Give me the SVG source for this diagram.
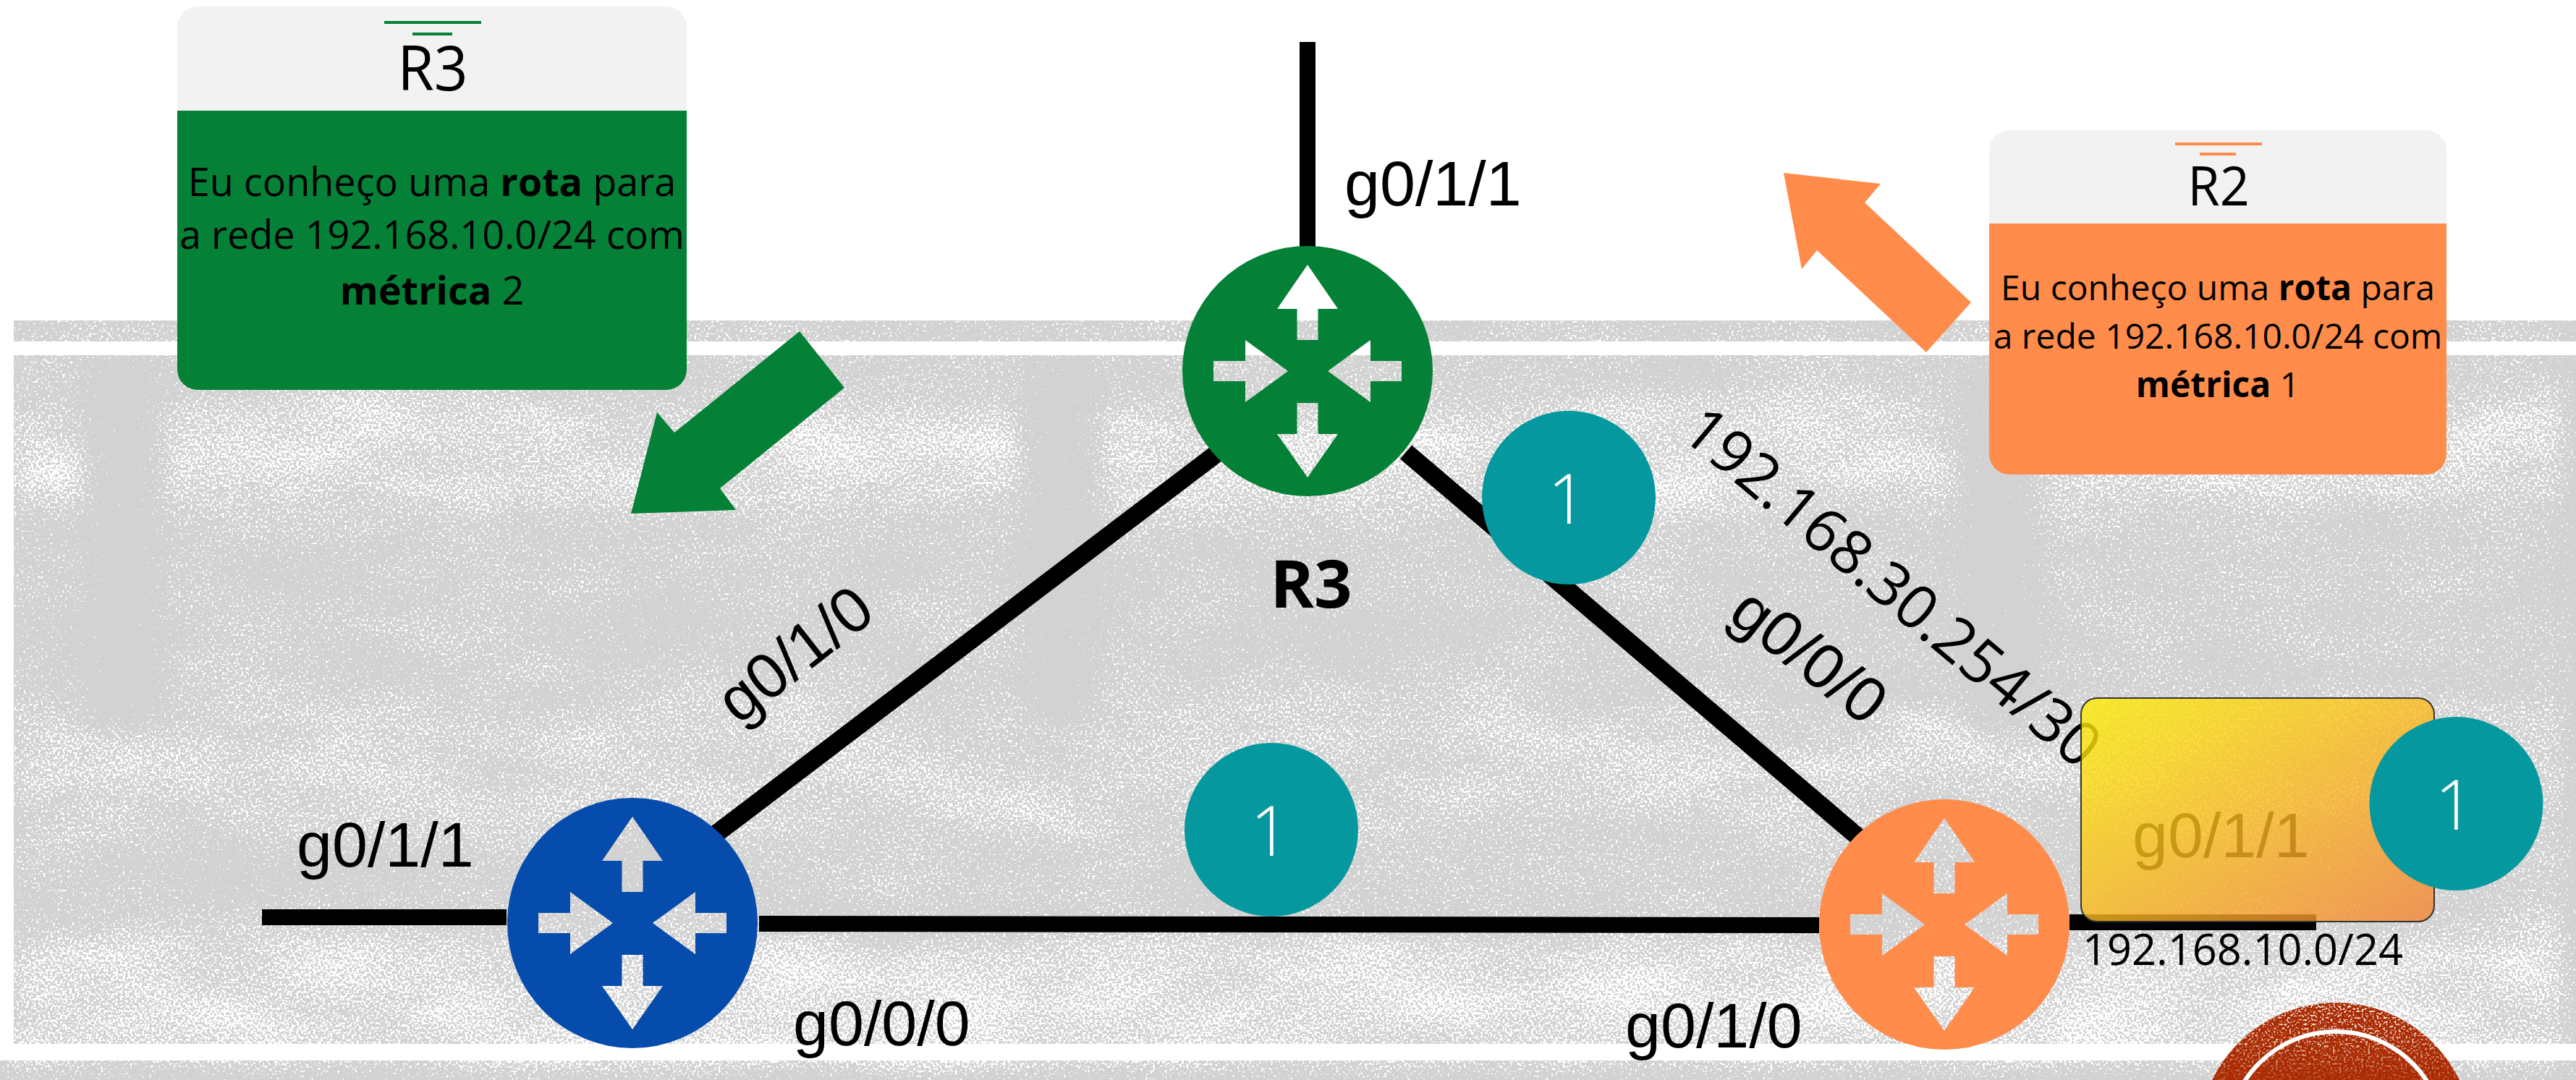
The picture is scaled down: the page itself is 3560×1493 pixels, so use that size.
<svg xmlns="http://www.w3.org/2000/svg" width="3560" height="1493" viewBox="0 0 3560 1493">
<style>
.txt{font-family:"Open Sans","Noto Sans",sans-serif;fill:#000}
.lib{font-family:"Liberation Sans",Arial,sans-serif;font-size:88px;fill:#000}
.card{font-size:54px;text-anchor:middle}
.card2{font-size:48px;text-anchor:middle}
.title{font-weight:400;text-anchor:middle}
.b{font-weight:700}
.link{stroke:#000;stroke-width:22;fill:none}
.diag{stroke-width:25}
.num{font-family:"Open Sans","Noto Sans",sans-serif;font-weight:300;font-size:95px;fill:#fff;text-anchor:middle}
.badge{fill:#05999f}
</style>
<defs>
<path id="router" fill-rule="evenodd" d="M-173 0A173 173 0 1 1 173 0A173 173 0 1 1 -173 0ZM0 -147L-42 -86H-14.500V-43H14.500V-86H42ZM-130 -14V14H-86V43L-27 0L-86 -43V-14ZM130 -14V14H87V43L28 0L87 -43V-14ZM-14.500 44V87H-42L0 147L42 87H14.500V44Z"/>
<linearGradient id="yellowFill" x1="0" y1="0" x2="1" y2="1">
<stop offset="0" stop-color="#ffef03"/><stop offset="1" stop-color="#f58438"/>
</linearGradient>
<filter id="speckle" filterUnits="userSpaceOnUse" x="0" y="0" width="3560" height="1493" color-interpolation-filters="sRGB">
<feTurbulence type="fractalNoise" baseFrequency="0.3" numOctaves="2" seed="7" result="t"/>
<feColorMatrix in="t" type="matrix" values="0 0 0 0 1 0 0 0 0 1 0 0 0 0 1 1 0 0 0 0" result="n"/>
<feTurbulence type="fractalNoise" baseFrequency="0.005 0.012" numOctaves="3" seed="21" result="lt"/>
<feColorMatrix in="lt" type="matrix" values="0 0 0 0 1 0 0 0 0 1 0 0 0 0 1 .25 0 0 0 0" result="L"/>
<feFlood x="0" y="443" width="3560" height="1050" flood-color="#fff" flood-opacity=".03" result="h0"/>
<feFlood x="0" y="443" width="3560" height="30" flood-color="#fff" flood-opacity=".05" result="h1"/>
<feFlood x="0" y="555" width="3560" height="150" flood-color="#fff" flood-opacity=".13" result="h2"/>
<feFlood x="0" y="980" width="3560" height="170" flood-color="#fff" flood-opacity=".09" result="h3"/>
<feFlood x="0" y="1300" width="3560" height="193" flood-color="#fff" flood-opacity=".15" result="h4"/>
<feMerge result="hm"><feMergeNode in="h0"/><feMergeNode in="h1"/><feMergeNode in="h2"/><feMergeNode in="h3"/><feMergeNode in="h4"/></feMerge>
<feGaussianBlur in="hm" stdDeviation="22" result="H"/>
<feFlood x="0" y="0" width="3560" height="500" flood-color="#fff" result="c0"/>
<feFlood x="0" y="1000" width="3560" height="493" flood-color="#fff" result="c1"/>
<feFlood x="0" y="480" width="125" height="540" flood-color="#fff" result="c2"/>
<feFlood x="215" y="480" width="1205" height="540" flood-color="#fff" result="c3"/>
<feFlood x="1510" y="480" width="1205" height="540" flood-color="#fff" result="c4"/>
<feFlood x="2810" y="480" width="750" height="540" flood-color="#fff" result="c5"/>
<feMerge result="cm"><feMergeNode in="c0"/><feMergeNode in="c1"/><feMergeNode in="c2"/><feMergeNode in="c3"/><feMergeNode in="c4"/><feMergeNode in="c5"/></feMerge>
<feGaussianBlur in="cm" stdDeviation="22" result="C"/>
<feComposite in="H" in2="C" operator="arithmetic" k1="1" k2="0" k3="0" k4="0" result="D"/>
<feComposite in="L" in2="C" operator="arithmetic" k1="1" k2="0" k3="0" k4="0" result="LC"/>
<feComposite in="n" in2="D" operator="arithmetic" k1="0" k2="1" k3="1" k4="0" result="s1"/>
<feComposite in="s1" in2="LC" operator="arithmetic" k1="0" k2="1" k3="1" k4="0" result="sum"/>
<feComponentTransfer in="sum" result="th"><feFuncA type="linear" slope="30" intercept="-24"/></feComponentTransfer>
<feFlood flood-color="#fff" result="w"/>
<feComposite in="w" in2="th" operator="in" result="spec"/>
<feComposite in="spec" in2="SourceAlpha" operator="in" result="specIn"/>
<feMerge><feMergeNode in="SourceGraphic"/><feMergeNode in="specIn"/></feMerge>
</filter>
<filter id="speckRed" filterUnits="userSpaceOnUse" x="3000" y="1380" width="460" height="113" color-interpolation-filters="sRGB">
<feTurbulence type="fractalNoise" baseFrequency="0.33" numOctaves="2" seed="11" result="t"/>
<feColorMatrix in="t" type="matrix" values="0 0 0 0 1 0 0 0 0 1 0 0 0 0 1 6 0 0 0 -3.150" result="n"/>
<feComposite in="n" in2="SourceAlpha" operator="in"/>
</filter>
<linearGradient id="fade" gradientUnits="userSpaceOnUse" x1="0" y1="1386" x2="0" y2="1493">
<stop offset="0" stop-color="#fff"/><stop offset=".55" stop-color="#aaa"/><stop offset="1" stop-color="#333"/>
</linearGradient>
<mask id="fadeMask" maskUnits="userSpaceOnUse" x="3000" y="1380" width="460" height="113"><rect x="3000" y="1380" width="460" height="113" fill="url(#fade)"/></mask>
</defs>
<rect width="3560" height="1493" fill="#fff"/>
<g id="background" filter="url(#speckle)" fill="#d2d2d2">
<rect x="19" y="443" width="3541" height="29"/>
<rect x="19" y="491" width="3541" height="952"/>
<rect x="0" y="1466" width="3560" height="27"/>
</g>
<g id="seal">
<circle cx="3228" cy="1576" r="190" fill="#a92a00"/>
<g mask="url(#fadeMask)"><circle cx="3228" cy="1576" r="190" fill="#fff" filter="url(#speckRed)"/></g>
<circle cx="3228" cy="1576" r="150" fill="none" stroke="#fff" stroke-width="6"/>
</g>
<g id="connectors">
<line class="link" x1="1807" y1="58" x2="1807" y2="345"/>
<line class="link diag" x1="984" y1="1157" x2="1680" y2="628"/>
<line class="link diag" x1="1943" y1="625" x2="2569" y2="1158"/>
<line class="link" x1="362" y1="1268" x2="700" y2="1268"/>
<line class="link" x1="1049" y1="1277" x2="2514" y2="1279"/>
<line class="link" x1="2860" y1="1275" x2="3201" y2="1275"/>
</g>
<g id="labels">
<text class="lib" x="410" y="1198">g0/1/1</text>
<text class="lib" x="1096" y="1445">g0/0/0</text>
<text class="lib" x="1858" y="284">g0/1/1</text>
<text class="lib" x="2246" y="1448">g0/1/0</text>
<text class="lib" text-anchor="middle" transform="translate(1117,928) rotate(-38)">g0/1/0</text>
<text class="lib" text-anchor="middle" transform="translate(2482,930) rotate(38)">g0/0/0</text>
<text class="txt" font-size="84" transform="translate(2320,602) rotate(40)">192.168.30.254/30</text>
<text class="lib" x="2947" y="1185">g0/1/1</text>
<text class="txt" font-size="59.500" x="2878" y="1334">192.168.10.0/24</text>
<text class="txt b" font-size="92" text-anchor="middle" x="1812" y="840">R3</text>
</g>
<g id="router-r3"><use href="#router" x="1807" y="513" fill="#058037"/></g>
<g id="router-r1"><use href="#router" x="874" y="1276" fill="#054cac"/></g>
<g id="router-r2"><use href="#router" x="2687" y="1278" fill="#ff8c4b"/></g>
<g id="network-box"><rect x="2876" y="965" width="488" height="309" rx="22" fill="url(#yellowFill)" fill-opacity=".8" stroke="#333" stroke-width="2"/></g>
<g id="metric-1"><circle class="badge" cx="2168" cy="688" r="120"/><text class="num" x="2166" y="724">1</text></g>
<g id="metric-2"><circle class="badge" cx="1757" cy="1147" r="120"/><text class="num" x="1755" y="1183">1</text></g>
<g id="metric-3"><circle class="badge" cx="3394.500" cy="1111" r="120"/><text class="num" x="3392" y="1147">1</text></g>
<g id="card-r3">
<path d="M245 153V37A28 28 0 0 1 273 9H921A28 28 0 0 1 949 37V153Z" fill="#f2f2f2"/>
<path d="M245 153H949V511A28 28 0 0 1 921 539H273A28 28 0 0 1 245 511Z" fill="#058037"/>
<rect x="531" y="29" width="134" height="4" fill="#058037"/>
<rect x="570" y="45" width="55" height="4" fill="#058037"/>
<text class="txt title" font-size="82" transform="translate(598,125) scale(1,1.06)">R3</text>
<text class="txt card" x="597" y="271">Eu conheço uma <tspan class="b">rota</tspan> para</text>
<text class="txt card" x="597" y="344">a rede 192.168.10.0/24 com</text>
<text class="txt card" x="597" y="421"><tspan class="b">métrica</tspan> 2</text>
</g>
<g id="card-r2">
<path d="M2749 309V208A28 28 0 0 1 2777 180H3353A28 28 0 0 1 3381 208V309Z" fill="#f2f2f2"/>
<path d="M2749 309H3381V628A28 28 0 0 1 3353 656H2777A28 28 0 0 1 2749 628Z" fill="#ff8c4b"/>
<rect x="3006" y="197" width="120" height="4" fill="#ff8c4b"/>
<rect x="3040" y="211" width="50" height="4" fill="#ff8c4b"/>
<text class="txt title" font-size="72" transform="translate(3066,284) scale(1,1.04)">R2</text>
<text class="txt card2" x="3065" y="415">Eu conheço uma <tspan class="b">rota</tspan> para</text>
<text class="txt card2" x="3065" y="482">a rede 192.168.10.0/24 com</text>
<text class="txt card2" x="3065" y="549"><tspan class="b">métrica</tspan> 1</text>
</g>
<g id="arrow-green"><polygon points="1105,458 1167,536 995,675 1017,705 872,710 908,570 932,598" fill="#058037"/></g>
<g id="arrow-orange"><polygon points="2465,239 2599,254 2577,280 2724,418 2662,487 2511,346 2490,372" fill="#ff8c4b"/></g>
</svg>
